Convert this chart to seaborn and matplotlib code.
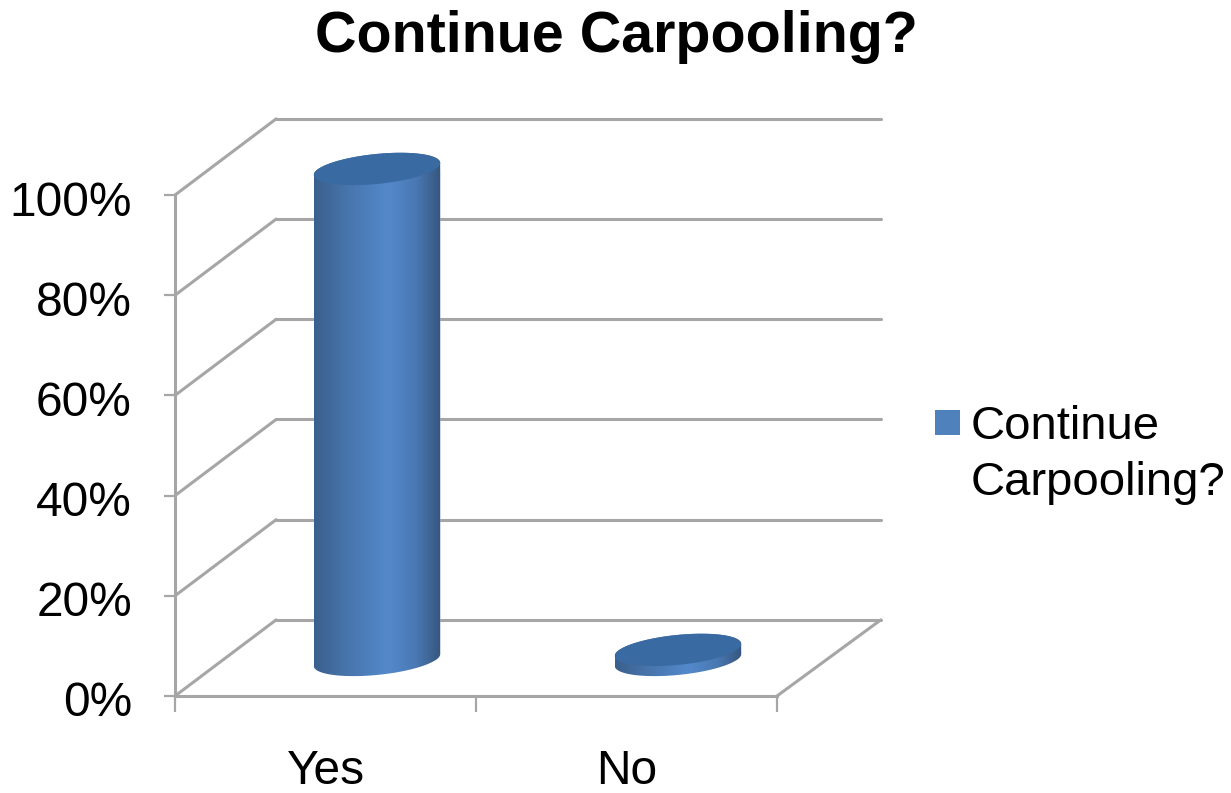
# -*- coding: utf-8 -*-
import numpy as np
import pandas as pd
import seaborn as sns
import matplotlib
matplotlib.use('Agg')
import matplotlib.pyplot as plt
from matplotlib.colors import LinearSegmentedColormap
from matplotlib.patches import Patch, Polygon
from matplotlib.transforms import Affine2D, ScaledTranslation

categories = ['Yes', 'No']
values = [98, 2]
y_ticks = [0, 20, 40, 60, 80, 100]
y_labels = ['0%', '20%', '40%', '60%', '80%', '100%']
series_name = ['Continue', 'Carpooling?']

W, H = 1231, 793
GRID = '#a6a6a6'
BLUE = '#4f81bd'
CAP = '#3a6aa2'

sns.set_theme(style='white')
plt.rcParams['font.family'] = ['Liberation Sans', 'DejaVu Sans']

fig = plt.figure(figsize=(W / 100, H / 100), dpi=100)
ax = fig.add_axes([175 / W, (H - 696) / H, 602 / W, 501 / H])

df = pd.DataFrame({'answer': categories, 'share': values})
sns.barplot(data=df, x='answer', y='share', color=BLUE, width=0.42,
            saturation=1, ax=ax, zorder=3)
ax.set_xlim(-0.5, 1.5)
ax.set_ylim(0, 100)

# fake 3d: depth of the floor in data units
depth_x, depth_y = 0.336, 15.2
for y in y_ticks:
    ax.plot([-0.5, -0.5 + depth_x], [y, y + depth_y], color=GRID, lw=2.2,
            clip_on=False, zorder=1, solid_capstyle='round')
    ax.plot([-0.5 + depth_x, 1.5 + depth_x + 0.009], [y + depth_y, y + depth_y],
            color=GRID, lw=2.2, clip_on=False, zorder=1)
ax.plot([1.5, 1.5 + depth_x + 0.009], [0, depth_y], color=GRID, lw=2.2,
        clip_on=False, zorder=1)

# cylinders sit halfway back on the floor
shift_x, shift_y = 0.171, 7.2
slant, semi = 1.2, 3.0
cmap = LinearSegmentedColormap.from_list(
    'cyl', [(0, '#3a5f8d'), (0.22, '#4672a8'), (0.58, '#5389cb'),
            (0.8, '#4a79b4'), (1, '#36567d')])
t = np.linspace(0, np.pi, 80)
shift = Affine2D().translate(shift_x, shift_y) + ax.transData

for bar in ax.patches:
    x0, w, top = bar.get_x() + shift_x, bar.get_width(), bar.get_height() + shift_y
    cx = x0 + w / 2
    ex = cx + w / 2 * np.cos(t)
    lift = slant * np.cos(t)
    upper = np.column_stack([ex, top + lift + semi * np.sin(t)])
    lower = np.column_stack([ex[::-1], top + lift[::-1] - semi * np.sin(t)])
    base = np.column_stack([ex[::-1], shift_y + lift[::-1] - semi * np.sin(t)])

    body = Polygon(np.vstack([base, upper]), closed=True, transform=ax.transData,
                   facecolor='none', edgecolor='none', clip_on=False)
    ax.add_patch(body)
    bar.set_transform(shift)
    bar.set_clip_box(fig.bbox)
    bar.set_clip_path(body)

    grad = ax.imshow(np.linspace(0, 1, 256)[None, :], cmap=cmap, aspect='auto',
                     extent=[x0, x0 + w, shift_y - semi - slant, top + semi + slant],
                     zorder=3.5, interpolation='bilinear')
    grad.set_clip_box(fig.bbox)
    grad.set_clip_path(body)

    ax.add_patch(Polygon(np.vstack([upper, lower]), closed=True, facecolor=CAP,
                         edgecolor='none', clip_on=False, zorder=4))

ax.set_xlim(-0.5, 1.5)
ax.set_ylim(0, 100)

for s in ['top', 'right']:
    ax.spines[s].set_visible(False)
for s in ['left', 'bottom']:
    ax.spines[s].set_color(GRID)
    ax.spines[s].set_linewidth(2.2)

ax.set_xlabel('')
ax.set_ylabel('')
ax.set_yticks(y_ticks, y_labels)
ax.set_xticks([0, 1], categories)
ax.set_xticks([-0.5, 0.5, 1.5], minor=True)
ax.tick_params(axis='y', left=True, length=8, width=1.6, color=GRID, labelsize=34.5,
               labelcolor='black', pad=23)
ax.tick_params(axis='x', which='major', bottom=False, labelsize=34.5,
               labelcolor='black', pad=32.3)
ax.tick_params(axis='x', which='minor', bottom=True, length=11.5, width=1.6, color=GRID)

# y labels sit a little under their gridline in the original
nudge = ScaledTranslation(0, -3 / 100, fig.dpi_scale_trans)
for lab in ax.get_yticklabels():
    lab.set_transform(lab.get_transform() + nudge)

fig.text(616 / W, (H - 52) / H, 'Continue Carpooling?', fontsize=41.3,
         fontweight='bold', ha='center', va='baseline', color='black')

handles = [Patch(facecolor=BLUE, edgecolor='none', label=series_name[0]),
           Patch(facecolor='none', edgecolor='none', label=series_name[1])]
leg = ax.legend(handles=handles, loc='upper left',
                bbox_to_anchor=(935 / W, (H - 405) / H),
                bbox_transform=fig.transFigure, frameon=False, fontsize=34,
                labelcolor='black', handlelength=0.53, handleheight=0.44,
                handletextpad=0.22, borderpad=0, borderaxespad=0, labelspacing=0.25)

fig.savefig('out.png', dpi=100)
